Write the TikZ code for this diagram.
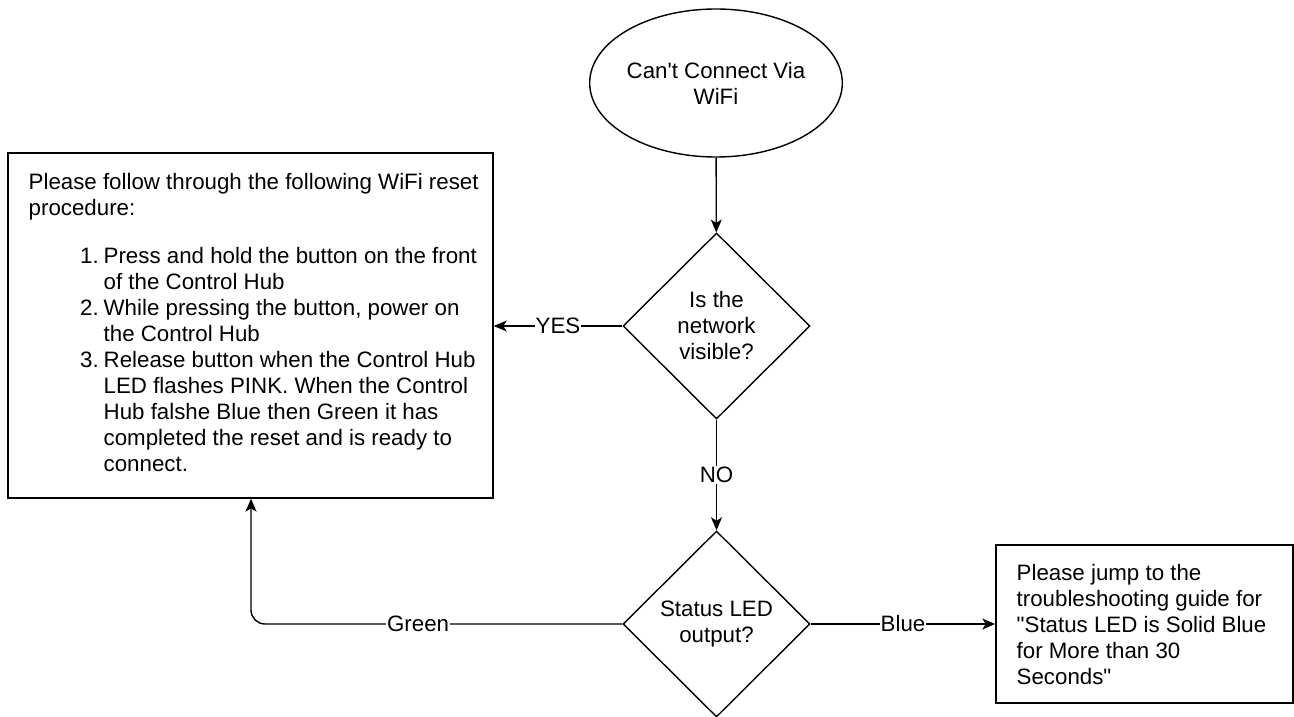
\documentclass[tikz,border=0pt]{standalone}
\usepackage{fontspec}
\setmainfont{Liberation Sans}[Ligatures=TeXOff]
\usetikzlibrary{shapes.geometric,arrows.meta}
\newcommand\mysq{\XeTeXglyph\XeTeXglyphindex "quotesingle"\relax}
\newcommand\mydq{\XeTeXglyph\XeTeXglyphindex "quotedbl"\relax}
\begin{document}
\begin{tikzpicture}[x=1pt,y=-1pt, line width=1.4pt,
  every node/.style={font=\fontsize{22.3}{26}\selectfont},
  box/.style={draw, rectangle, inner sep=0pt},
  dec/.style={draw, diamond, inner sep=0pt, minimum width=187pt, minimum height=186pt, align=center},
  arr/.style={-{Stealth[length=13pt,width=11pt,inset=3.5pt]}},
  lbl/.style={fill=white, inner sep=1pt},
  txt/.style={inner sep=0pt, align=left, anchor=north west}
]
\useasboundingbox (0,0) rectangle (1294,717);
\node[draw, ellipse, inner sep=0pt, minimum width=224pt, minimum height=148pt, align=center] (start) at (716,83) {Can\mysq t Connect Via\\WiFi};
\node[dec] (net) at (716.5,326) {Is the\\network\\visible?};
\node[dec] (led) at (716.5,624) {Status LED\\output?};
\node[box, minimum width=485pt, minimum height=345pt] (reset) at (250.5,325.5) {};
\node[txt] (resettext) at (28,173) {Please follow through the following WiFi reset\\procedure:\\[22pt]
\makebox[75pt][r]{1.\hspace{5pt}}Press and hold the button on the front\\
\hspace*{75pt}of the Control Hub\\
\makebox[75pt][r]{2.\hspace{5pt}}While pressing the button, power on\\
\hspace*{75pt}the Control Hub\\
\makebox[75pt][r]{3.\hspace{5pt}}Release button when the Control Hub\\
\hspace*{75pt}LED flashes PINK. When the Control\\
\hspace*{75pt}Hub falshe Blue then Green it has\\
\hspace*{75pt}completed the reset and is ready to\\
\hspace*{75pt}connect.};
\node[box, minimum width=297pt, minimum height=158pt] (guide) at (1144.5,624) {};
\node[txt] (guidetext) at (1016,564) {Please jump to the\\troubleshooting guide for\\\mydq Status LED is Solid Blue\\for More than 30\\Seconds\mydq};
\draw[arr] (start) -- (net);
\draw[arr] (net.west) -- node[lbl] {YES} (net.west -| reset.east);
\draw[arr] (net) -- node[lbl] {NO} (led);
\draw[arr] (led.east) -- node[lbl] {Blue} (led.east -| guide.west);
\coordinate (corner) at (251,624);
\draw[arr, rounded corners=14pt] (led.west) -- node[lbl, pos=0.55] {Green} (corner) -- (corner |- reset.south);
\end{tikzpicture}
\end{document}
